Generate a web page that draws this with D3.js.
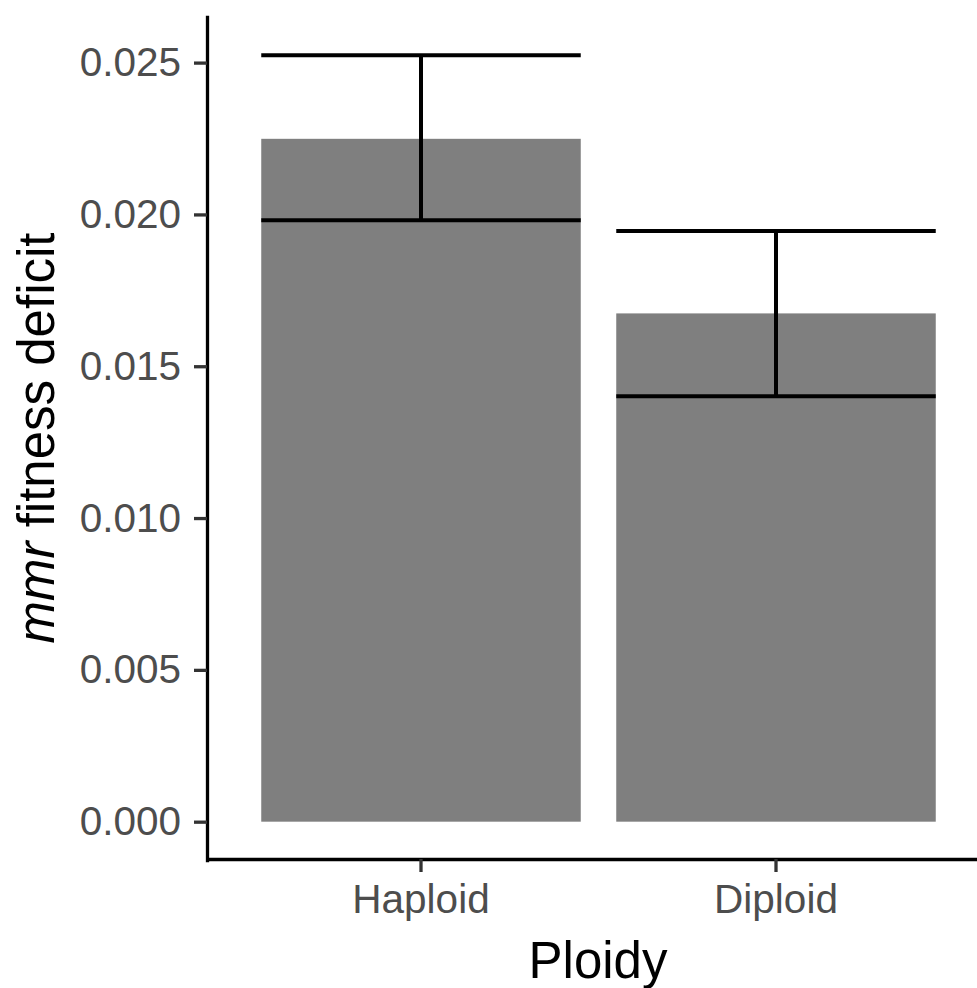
<!DOCTYPE html>
<html>
<head>
<meta charset="utf-8">
<script src="https://d3js.org/d3.v7.min.js"></script>
<style>
body { margin: 0; background: #fff; }
svg { display: block; font-family: "Liberation Sans", Arial, sans-serif; }
.axis path { stroke: #000; stroke-width: 3.3; }
.axis line { stroke: #333; stroke-width: 3.3; }
.axis text { fill: #4d4d4d; font-size: 40.5px; }
</style>
</head>
<body>
<svg width="977" height="988"></svg>
<script>

var ploidy = ["Haploid", "Diploid"];
var deficit = [0.02249, 0.01674];
var errLow = [0.01981, 0.01401];
var errHigh = [0.02524, 0.01945];
var yTicks = [0, 0.005, 0.010, 0.015, 0.020, 0.025];

var data = ploidy.map(function(p, i) {
  return { ploidy: p, value: deficit[i], lo: errLow[i], hi: errHigh[i] };
});

var svg = d3.select("svg");
var pLeft = 207, pBottom = 859, pTop = 17, pRight = 989;

// ggplot style 5% expansion of the continuous axis
var yMax = d3.max(errHigh);
var y = d3.scaleLinear()
    .domain([-0.05 * yMax, 1.05 * yMax])
    .range([pBottom + 1, pTop]);

var x = d3.scaleBand()
    .domain(ploidy)
    .range([pLeft + 1, pRight])
    .paddingInner(0.1)
    .paddingOuter(0.15);

// bars
svg.append("g")
  .selectAll("rect")
  .data(data)
  .enter().append("rect")
  .attr("x", function(d) { return x(d.ploidy); })
  .attr("width", x.bandwidth())
  .attr("y", function(d) { return y(d.value); })
  .attr("height", function(d) { return y(0) - y(d.value); })
  .attr("fill", "#7f7f7f");

// error bars
var eb = svg.append("g")
  .attr("stroke", "#000")
  .attr("stroke-width", 4)
  .selectAll("g")
  .data(data)
  .enter().append("g");

eb.append("line")
  .attr("x1", function(d) { return x(d.ploidy) + x.bandwidth() / 2; })
  .attr("x2", function(d) { return x(d.ploidy) + x.bandwidth() / 2; })
  .attr("y1", function(d) { return y(d.lo); })
  .attr("y2", function(d) { return y(d.hi); });

eb.selectAll("line.cap")
  .data(function(d) { return [d.lo, d.hi].map(function(v) { return { p: d.ploidy, v: v }; }); })
  .enter().append("line")
  .attr("class", "cap")
  .attr("x1", function(d) { return x(d.p); })
  .attr("x2", function(d) { return x(d.p) + x.bandwidth(); })
  .attr("y1", function(d) { return y(d.v); })
  .attr("y2", function(d) { return y(d.v); });

// axes
svg.append("g")
  .attr("class", "axis")
  .attr("transform", "translate(" + pLeft + ",0)")
  .call(d3.axisLeft(y)
    .tickValues(yTicks)
    .tickFormat(d3.format(".3f"))
    .tickSizeInner(13)
    .tickSizeOuter(0)
    .tickPadding(13));

svg.append("g")
  .attr("class", "axis")
  .attr("transform", "translate(0," + pBottom + ")")
  .call(d3.axisBottom(x)
    .tickSizeInner(13)
    .tickSizeOuter(0)
    .tickPadding(12));

svg.selectAll(".axis .domain").attr("stroke-linecap", "square");

// axis titles
svg.append("text")
  .attr("x", (pLeft + pRight) / 2)
  .attr("y", 978)
  .attr("text-anchor", "middle")
  .style("font-size", "51px")
  .attr("fill", "#000")
  .text("Ploidy");

var yt = svg.append("text")
  .attr("transform", "translate(54," + (pTop + pBottom) / 2 + ") rotate(-90)")
  .attr("text-anchor", "middle")
  .style("font-size", "51px")
  .attr("fill", "#000");
yt.append("tspan").style("font-style", "italic").text("mmr");
yt.append("tspan").text(" fitness deficit");

</script>
</body>
</html>
